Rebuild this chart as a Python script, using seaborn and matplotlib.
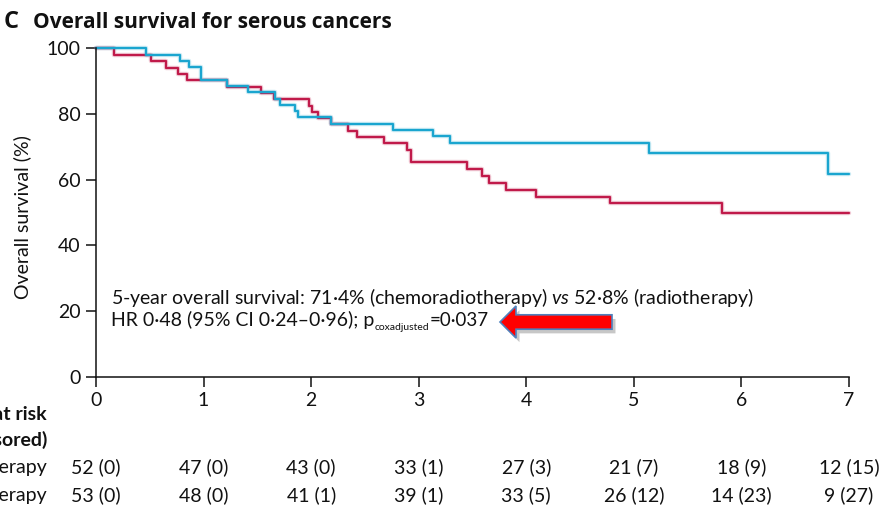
import matplotlib
matplotlib.use("Agg")
import matplotlib.pyplot as plt
import matplotlib.transforms as mtransforms
import matplotlib.patheffects as pe
from matplotlib.patches import Polygon
import numpy as np
import pandas as pd
import seaborn as sns

# Kaplan-Meier step estimates (years, % surviving)
chemo_times = [0, 0.465, 0.78, 0.865, 0.976, 1.22, 1.41, 1.66, 1.715, 1.85, 1.88,
               2.18, 2.76, 3.135, 3.29, 5.14, 6.805, 7.0]
chemo_surv = [100, 97.9, 96.0, 94.1, 90.4, 88.4, 86.5, 84.6, 82.8, 80.9, 78.9,
              77.0, 75.1, 73.2, 71.2, 68.0, 61.8, 61.8]

radio_times = [0, 0.17, 0.515, 0.65, 0.765, 0.85, 1.215, 1.53, 1.655, 1.98, 2.005,
               2.065, 2.18, 2.345, 2.43, 2.68, 2.895, 2.925, 3.445, 3.59, 3.65,
               3.81, 4.09, 4.78, 5.82, 7.0]
radio_surv = [100, 98.0, 96.0, 94.0, 92.2, 90.3, 88.1, 86.4, 84.5, 82.5, 80.6,
              78.7, 76.8, 74.9, 72.8, 71.0, 69.0, 65.3, 63.1, 61.1, 59.0,
              56.9, 54.8, 52.8, 50.0, 50.0]

# Number at risk (number censored)
risk_years = [0, 1, 2, 3, 4, 5, 6, 7]
chemo_at_risk = ["52 (0)", "47 (0)", "43 (0)", "33 (1)", "27 (3)", "21 (7)", "18 (9)", "12 (15)"]
radio_at_risk = ["53 (0)", "48 (0)", "41 (1)", "39 (1)", "33 (5)", "26 (12)", "14 (23)", "9 (27)"]
row_labels = ["Chemoradiotherapy", "Radiotherapy"]

y_ticks = [0, 20, 40, 60, 80, 100]
x_ticks = [0, 1, 2, 3, 4, 5, 6, 7]

BLUE = "#1aa5cf"
RED = "#c01a4a"
INK = "#111111"
FONT = "Lato"
TITLE_FONT = "Open Sans"
FS = 14

sns.set_theme(style="ticks")
plt.rcParams["font.family"] = [FONT, "DejaVu Sans"]
plt.rcParams["mathtext.fontset"] = "custom"
plt.rcParams["mathtext.rm"] = FONT
plt.rcParams["mathtext.it"] = FONT + ":italic"

W, H = 880, 508
fig = plt.figure(figsize=(W / 100, H / 100), dpi=100)
ax = fig.add_axes([96 / W, 1 - 377 / H, (849 - 96) / W, (377 - 48) / H])


def fx(px):
    return px / W


def fy(py):
    return 1 - py / H


df = pd.concat([
    pd.DataFrame({"years": radio_times, "surv": radio_surv, "arm": "Radiotherapy"}),
    pd.DataFrame({"years": chemo_times, "surv": chemo_surv, "arm": "Chemoradiotherapy"}),
])

for arm, color in [("Radiotherapy", RED), ("Chemoradiotherapy", BLUE)]:
    sub = df[df["arm"] == arm]
    # soft halo beneath each step curve
    sns.lineplot(data=sub, x="years", y="surv", ax=ax, drawstyle="steps-post",
                 estimator=None, sort=False, color=color, linewidth=3.2, alpha=0.22,
                 clip_on=False, legend=False)
    sns.lineplot(data=sub, x="years", y="surv", ax=ax, drawstyle="steps-post",
                 estimator=None, sort=False, color=color, linewidth=1.6,
                 clip_on=False, legend=False)

ax.set_xlim(0, 7)
ax.set_ylim(0, 100)
ax.set_xticks(x_ticks)
ax.set_yticks(y_ticks)
ax.set_xticklabels([str(t) for t in x_ticks])
ax.set_yticklabels([str(t) for t in y_ticks])
ax.tick_params(axis="both", direction="out", length=7, width=1.1, color=INK,
               labelsize=FS, labelcolor=INK, pad=4)
for side in ["top", "right"]:
    ax.spines[side].set_visible(False)
for side in ["left", "bottom"]:
    ax.spines[side].set_linewidth(1.1)
    ax.spines[side].set_color(INK)
ax.set_xlabel("")
ax.set_ylabel("Overall survival (%)", fontsize=FS, color=INK)
ax.yaxis.set_label_coords((31 - 96) / (849 - 96), (377 - 217) / (377 - 48))

# Panel title
fig.text(fx(4), fy(28), "C", fontsize=17, fontweight="bold", family=[TITLE_FONT],
         color=INK, va="baseline")
fig.text(fx(33), fy(28), "Overall survival for serous cancers", fontsize=15,
         fontweight="bold", family=[TITLE_FONT], color=INK, va="baseline")

# Survival summary
fig.text(fx(111), fy(304),
         r"5-year overall survival: 71·4% (chemoradiotherapy) $\mathit{vs}$ 52·8% (radiotherapy)",
         fontsize=FS, color=INK, va="baseline")

# Second line built from pieces so the subscript can be set small
renderer = fig.canvas.get_renderer()
pieces = [("HR 0·48 (95% CI 0·24–0·96); p", FS, 0, 0.5), ("coxadjusted", 7.5, -4, 0.0),
          ("=0·037", 13.5, 0, 0)]
cursor = 111
for txt, size, dy, gap in pieces:
    t = fig.text(fx(cursor), fy(326 - dy), txt, fontsize=size, color=INK, va="baseline")
    cursor += t.get_window_extent(renderer=renderer).width + gap

# Pointer arrow
tip, head_back, tail = 500, 516, 612
yc, head_half, shaft_half = 322, 16, 7.2
pts = [(tip, yc), (head_back, yc - head_half), (head_back, yc - shaft_half),
       (tail, yc - shaft_half), (tail, yc + shaft_half), (head_back, yc + shaft_half),
       (head_back, yc + head_half)]
arrow = Polygon([(fx(x), fy(y)) for x, y in pts], closed=True, transform=fig.transFigure,
                facecolor="#ff0000", edgecolor="#4f81bd", linewidth=1.2, zorder=5)
arrow.set_path_effects([pe.SimplePatchShadow(offset=(2.5, -3), shadow_rgbFace="#000000",
                                              alpha=0.22), pe.Normal()])
fig.add_artist(arrow)

# Number-at-risk table
blend = mtransforms.blended_transform_factory(ax.transData, fig.transFigure)
for t, a, b in zip(risk_years, chemo_at_risk, radio_at_risk):
    ax.text(t, fy(473), a, transform=blend, ha="center", va="baseline", fontsize=FS,
            color=INK, clip_on=False)
    ax.text(t, fy(501), b, transform=blend, ha="center", va="baseline", fontsize=FS,
            color=INK, clip_on=False)

fig.text(fx(47), fy(420), "Number at risk", ha="right", va="baseline", fontsize=FS,
         fontweight="bold", color=INK)
fig.text(fx(47), fy(446), "(number censored)", ha="right", va="baseline", fontsize=FS,
         fontweight="bold", color=INK)
fig.text(fx(47), fy(473), row_labels[0], ha="right", va="baseline", fontsize=FS,
         color=INK)
fig.text(fx(47), fy(501), row_labels[1], ha="right", va="baseline", fontsize=FS,
         color=INK)

fig.savefig("out.png", dpi=100, facecolor="white")
